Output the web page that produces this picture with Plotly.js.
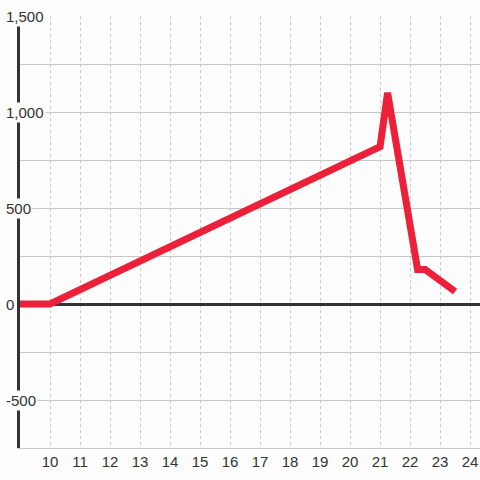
<!DOCTYPE html>
<html><head><meta charset="utf-8">
<script src="https://cdn.plot.ly/plotly-3.0.1.min.js"></script>
<style>body{margin:0;background:#fcfdfc}#c{width:480px;height:480px}</style>
</head><body><div id="c"></div>
<script>
const xVals = [9, 10, 21, 21.25, 22.25, 22.5, 23.5];
const yVals = [0, 0, 820, 1100, 180, 180, 65];
const xTicks = [10,11,12,13,14,15,16,17,18,19,20,21,22,23,24];
const yTicks = [-500, 0, 500, 1000, 1500];
const yTickText = ['-500', '0', '500', '1,000', '1,500'];

const bg = '#fcfdfc';
const font = {family: 'Liberation Sans, Arial, sans-serif', size: 15, color: '#333'};

const annotations = yTicks.map((v, i) => ({
  xref: 'paper', yref: 'y', x: 0, y: v, xshift: -16,
  xanchor: 'left', yanchor: 'middle', showarrow: false,
  text: yTickText[i], font: font, bgcolor: bg, borderpad: 1
}));

Plotly.newPlot('c', [{
  x: xVals, y: yVals, mode: 'lines', type: 'scatter',
  line: {color: '#ec2039', width: 7}, cliponaxis: false, hoverinfo: 'none'
}], {
  width: 480, height: 480,
  margin: {l: 20, r: 0, t: 16, b: 32},
  paper_bgcolor: bg, plot_bgcolor: bg,
  showlegend: false,
  font: font,
  xaxis: {
    range: [9, 24.33], tickvals: xTicks, ticktext: xTicks.map(String),
    showgrid: true, gridcolor: '#c8c8c8', griddash: 'dot', gridwidth: 1,
    zeroline: false, showline: true, linecolor: '#c8c8c8', linewidth: 1,
    ticks: '', tickfont: font
  },
  yaxis: {
    range: [-750, 1500], dtick: 250, tick0: 0,
    showgrid: true, gridcolor: '#c8c8c8', gridwidth: 1,
    showticklabels: false, ticks: '',
    zeroline: true, zerolinecolor: '#333', zerolinewidth: 3,
    showline: true, linecolor: '#333', linewidth: 3
  },
  annotations: annotations
}, {staticPlot: true});
</script></body></html>
